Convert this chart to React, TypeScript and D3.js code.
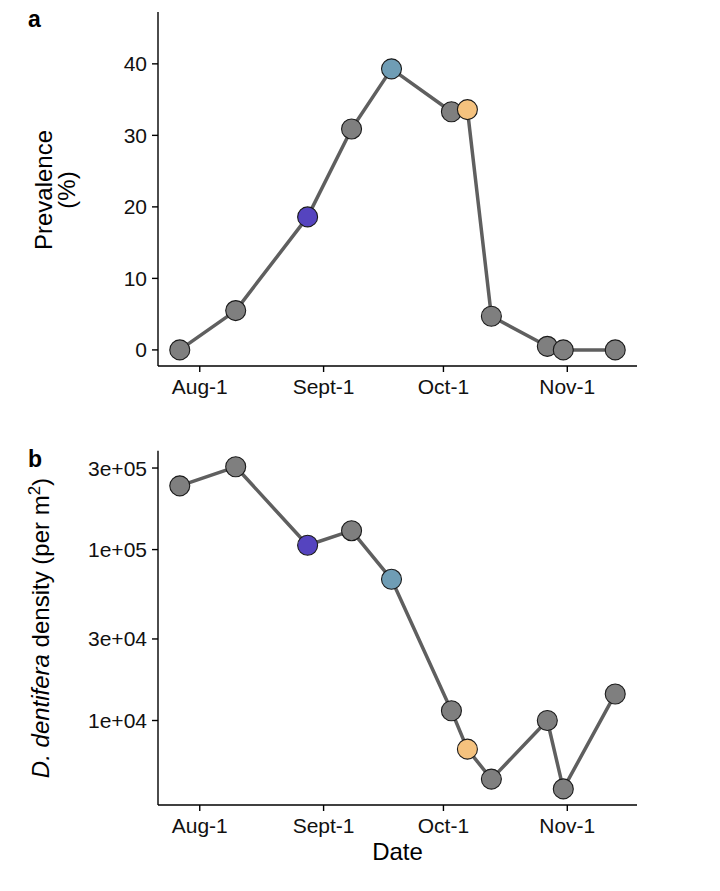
import React from "react";
import * as d3 from "d3";

const dates = ["2014-07-27", "2014-08-10", "2014-08-28", "2014-09-08", "2014-09-18", "2014-10-03", "2014-10-07", "2014-10-13", "2014-10-27", "2014-10-31", "2014-11-13"];
const prevalence = [0, 5.5, 18.6, 30.9, 39.3, 33.3, 33.6, 4.7, 0.5, 0, 0];
const density = [236000, 305000, 106000, 129000, 67000, 11400, 6800, 4540, 10000, 3980, 14300];
const pointColors = ["#7f7f7f", "#7f7f7f", "#5544bf", "#7f7f7f", "#6f9db5", "#7f7f7f", "#f5c27e", "#7f7f7f", "#7f7f7f", "#7f7f7f", "#7f7f7f"];
const xTickDates = ["2014-08-01", "2014-09-01", "2014-10-01", "2014-11-01"];
const xTickLabels = ["Aug-1", "Sept-1", "Oct-1", "Nov-1"];
const prevTicks = [0, 10, 20, 30, 40];
const densTicks = [1e4, 3e4, 1e5, 3e5];
const densTickLabels = ["1e+04", "3e+04", "1e+05", "3e+05"];

const FONT = "'Liberation Sans', Arial, Helvetica, sans-serif";
const TICK_FS = 21;

export default function App() {
  const parsed = dates.map((d) => new Date(d + "T00:00:00Z"));
  const [t0, t1] = d3.extent(parsed) as [Date, Date];
  const span = +t1 - +t0;
  const x = d3
    .scaleUtc()
    .domain([new Date(+t0 - 0.05 * span), new Date(+t1 + 0.05 * span)])
    .range([158, 637]);

  const yA = d3.scaleLinear().domain([-2.25, 47.25]).range([366, 12]);
  const lmin = Math.log10(d3.min(density)!);
  const lmax = Math.log10(d3.max(density)!);
  const lr = lmax - lmin;
  const yB = d3
    .scaleLog()
    .domain([Math.pow(10, lmin - 0.05 * lr), Math.pow(10, lmax + 0.05 * lr)])
    .range([805, 450.7]);

  const lineA = d3
    .line<number>()
    .x((_, i) => x(parsed[i]))
    .y((v) => yA(v));
  const lineB = d3
    .line<number>()
    .x((_, i) => x(parsed[i]))
    .y((v) => yB(v));

  const xTicks = xTickDates.map((d) => new Date(d + "T00:00:00Z"));

  const renderXAxis = (y0: number) => (
    <g>
      <line x1={158} x2={637} y1={y0} y2={y0} stroke="#000" strokeWidth={1.4} />
      {xTicks.map((t, i) => (
        <g key={i}>
          <line x1={x(t)} x2={x(t)} y1={y0} y2={y0 + 6} stroke="#000" strokeWidth={1.4} />
          <text x={x(t)} y={y0 + 28} textAnchor="middle" fontSize={TICK_FS} fill="#111">
            {xTickLabels[i]}
          </text>
        </g>
      ))}
    </g>
  );

  return (
    <svg width={720} height={891} style={{ position: "absolute", left: 0, top: 0 }} fontFamily={FONT}>
      <rect width={720} height={891} fill="#fff" />
      {/* Panel a */}
      <text x={28} y={27} fontSize={23} fontWeight="bold">a</text>
      <line x1={158} x2={158} y1={12} y2={366} stroke="#000" strokeWidth={1.4} />
      {prevTicks.map((v) => (
        <g key={v}>
          <line x1={152} x2={158} y1={yA(v)} y2={yA(v)} stroke="#000" strokeWidth={1.4} />
          <text x={147} y={yA(v) + 7.5} textAnchor="end" fontSize={TICK_FS} fill="#111">
            {v}
          </text>
        </g>
      ))}
      {renderXAxis(366)}
      <g transform="translate(52,190) rotate(-90)">
        <text x={0} y={0} textAnchor="middle" fontSize={24}>Prevalence</text>
      </g>
      <g transform="translate(75,190) rotate(-90)">
        <text x={0} y={0} textAnchor="middle" fontSize={24}>(%)</text>
      </g>
      <path d={lineA(prevalence) || ""} fill="none" stroke="#5f5f5f" strokeWidth={3.5} strokeLinejoin="round" />
      {prevalence.map((v, i) => (
        <circle key={i} cx={x(parsed[i])} cy={yA(v)} r={10} fill={pointColors[i]} stroke="#1a1a1a" strokeWidth={1.1} />
      ))}

      {/* Panel b */}
      <text x={28} y={467} fontSize={23} fontWeight="bold">b</text>
      <line x1={158} x2={158} y1={450.7} y2={805} stroke="#000" strokeWidth={1.4} />
      {densTicks.map((v, i) => (
        <g key={v}>
          <line x1={152} x2={158} y1={yB(v)} y2={yB(v)} stroke="#000" strokeWidth={1.4} />
          <text x={147} y={yB(v) + 7.5} textAnchor="end" fontSize={TICK_FS} fill="#111">
            {densTickLabels[i]}
          </text>
        </g>
      ))}
      {renderXAxis(805)}
      <text x={397.5} y={860} textAnchor="middle" fontSize={24}>Date</text>
      <g transform="translate(49,628) rotate(-90)">
        <text x={0} y={0} textAnchor="middle" fontSize={24}>
          <tspan fontStyle="italic">D. dentifera</tspan>
          <tspan> density (per m</tspan>
          <tspan fontSize={17} dy={-9}>2</tspan>
          <tspan dy={9}>)</tspan>
        </text>
      </g>
      <path d={lineB(density) || ""} fill="none" stroke="#5f5f5f" strokeWidth={3.5} strokeLinejoin="round" />
      {density.map((v, i) => (
        <circle key={i} cx={x(parsed[i])} cy={yB(v)} r={10} fill={pointColors[i]} stroke="#1a1a1a" strokeWidth={1.1} />
      ))}
    </svg>
  );
}
